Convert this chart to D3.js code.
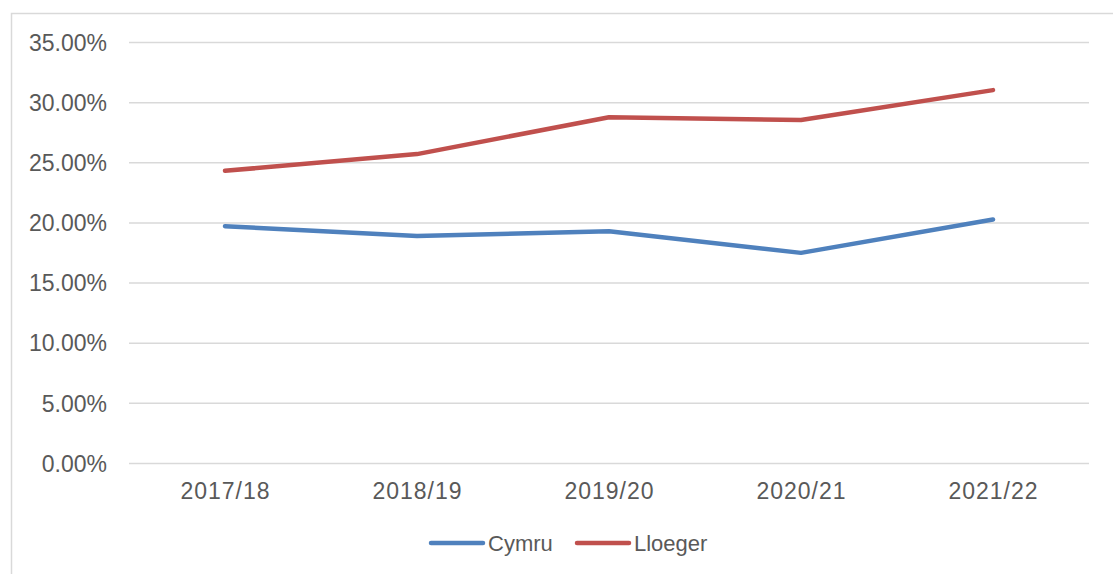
<!DOCTYPE html>
<html>
<head>
<meta charset="utf-8">
<script src="https://cdn.jsdelivr.net/npm/d3@7"></script>
<style>
  body { margin: 0; background: #fff; }
  text { font-family: "Liberation Sans", Arial, sans-serif; fill: #595959; }
</style>
</head>
<body>
<div class="content"></div>
<script>
var svgWidth = 1113;
var svgHeight = 574;

// Chart data.
var categories = ["2017/18", "2018/19", "2019/20", "2020/21", "2021/22"];
var cymru = [0.1969, 0.1888, 0.1927, 0.1747, 0.2025];
var lloeger = [0.2429, 0.2568, 0.2874, 0.2852, 0.3100];
var yTicks = [0, 0.05, 0.10, 0.15, 0.20, 0.25, 0.30, 0.35];

var seriesList = [
  {"name": "Cymru", "values": cymru, "color": "#4f81bd"},
  {"name": "Lloeger", "values": lloeger, "color": "#c0504d"}
];

var plot = {"left": 129, "right": 1089, "top": 42, "bottom": 463};

var svg = d3.select(".content")
  .append("svg")
  .attr("width", svgWidth)
  .attr("height", svgHeight);

// Chart area border (runs off the right and bottom edges).
svg.append("rect")
  .attr("x", 11.5)
  .attr("y", 13.5)
  .attr("width", svgWidth + 10)
  .attr("height", svgHeight + 10)
  .attr("fill", "none")
  .attr("stroke", "#d9d9d9")
  .attr("stroke-width", 1.5);

var x = d3.scalePoint()
  .domain(categories)
  .range([plot.left, plot.right])
  .padding(0.5);

var y = d3.scaleLinear()
  .domain([0, 0.35])
  .range([plot.bottom, plot.top]);

// Gridlines and y labels.
var yAxis = d3.axisLeft(y)
  .tickValues(yTicks)
  .tickSize(-(plot.right - plot.left))
  .tickPadding(22)
  .tickFormat(d3.format(".2%"));

var yg = svg.append("g")
  .attr("transform", "translate(" + plot.left + ",0)")
  .call(yAxis);
yg.select(".domain").remove();
yg.selectAll("line").attr("stroke", "#d9d9d9").attr("stroke-width", 1.5);
yg.selectAll("text")
  .attr("font-size", 23)
  .attr("dy", "0.36em")
  .attr("fill", "#595959");

// x labels.
var xAxis = d3.axisBottom(x).tickSize(0).tickPadding(20);
var xg = svg.append("g")
  .attr("transform", "translate(0," + plot.bottom + ")")
  .call(xAxis);
xg.select(".domain").remove();
xg.selectAll("text")
  .attr("font-size", 23)
  .attr("letter-spacing", 1)
  .attr("fill", "#595959");

// Lines.
var line = d3.line()
  .x(function(d, i) { return x(categories[i]); })
  .y(function(d) { return y(d); });

svg.selectAll(".series")
  .data(seriesList)
  .enter()
  .append("path")
  .attr("class", "series")
  .attr("d", function(d) { return line(d.values); })
  .attr("fill", "none")
  .attr("stroke", function(d) { return d.color; })
  .attr("stroke-width", 4.5)
  .attr("stroke-linecap", "round")
  .attr("stroke-linejoin", "round");

// Legend.
var legendX = [431, 577];
var legend = svg.selectAll(".legend")
  .data(seriesList)
  .enter()
  .append("g")
  .attr("class", "legend")
  .attr("transform", function(d, i) { return "translate(" + legendX[i] + ",543)"; });

legend.append("line")
  .attr("x1", 0)
  .attr("x2", 52)
  .attr("stroke", function(d) { return d.color; })
  .attr("stroke-width", 4.5)
  .attr("stroke-linecap", "round");

legend.append("text")
  .attr("x", 57)
  .attr("dy", "0.36em")
  .attr("font-size", 22)
  .text(function(d) { return d.name; });
</script>
</body>
</html>
